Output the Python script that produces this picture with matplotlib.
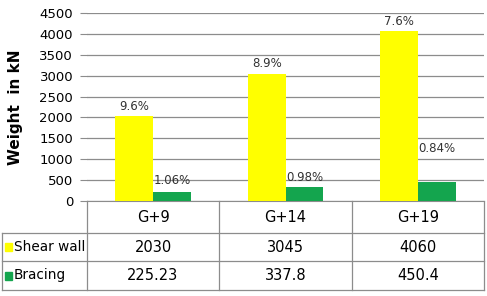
import matplotlib.pyplot as plt
import numpy as np

# data
categories = ['G+9', 'G+14', 'G+19']
series_names = ['Shear wall', 'Bracing']
shear_wall = [2030, 3045, 4060]
bracing = [225.23, 337.8, 450.4]
shear_pct = ['9.6%', '8.9%', '7.6%']
bracing_pct = ['1.06%', '0.98%', '0.84%']
table_text = [['2030', '3045', '4060'], ['225.23', '337.8', '450.4']]

yellow = '#FFFF00'
green = '#14A54E'
grid_col = '#8c8c8c'

W, H = 487, 296
plt.rcParams['font.family'] = 'DejaVu Sans'
fig = plt.figure(figsize=(W / 100, H / 100), dpi=100)

def fx(px):
    return px / W

def fy(py):
    return 1 - py / H

# bar area
x0, x1, ytop, ybot = 87, 484, 13, 201
ax = fig.add_axes([fx(x0), fy(ybot), fx(x1) - fx(x0), fy(ytop) - fy(ybot)])
x = np.arange(len(categories)) + 0.5
bw = 0.285
ax.bar(x - bw / 2, shear_wall, bw, color=yellow, zorder=3)
ax.bar(x + bw / 2, bracing, bw, color=green, zorder=3)
ax.set_xlim(0, 3)
ax.set_ylim(0, 4500)
ax.set_yticks(np.arange(0, 4501, 500))
ax.tick_params(axis='y', labelsize=9.5, length=5, color=grid_col, pad=5)
ax.set_xticks([])
ax.grid(axis='y', color=grid_col, lw=0.9, zorder=0)
for s in ['top', 'right', 'left']:
    ax.spines[s].set_visible(False)
ax.spines['bottom'].set_color(grid_col)
ax.set_ylabel('Weight  in kN', fontsize=11, fontweight='bold', labelpad=12)

# percentage labels
bracing_offset = [120, 60, 640]
for i in range(3):
    ax.text(x[i] - bw / 2, shear_wall[i] + 80, shear_pct[i], ha='center', va='bottom', fontsize=8.5, color='#333333')
    ax.text(x[i] + bw / 2, bracing[i] + bracing_offset[i], bracing_pct[i], ha='center', va='bottom', fontsize=8.5, color='#333333')

# data table below the chart
cols = [87, 219, 352, 484]
rows = [201, 233, 261, 290]
left = 2
lw = 0.9
def hline(y, xa, xb):
    fig.add_artist(plt.Line2D([fx(xa), fx(xb)], [fy(y), fy(y)], color=grid_col, lw=lw))
def vline(xp, ya, yb):
    fig.add_artist(plt.Line2D([fx(xp), fx(xp)], [fy(ya), fy(yb)], color=grid_col, lw=lw))

hline(rows[1], left, cols[-1])
hline(rows[2], left, cols[-1])
hline(rows[3], left, cols[-1])
vline(left, rows[1], rows[3])
for c in cols:
    vline(c, rows[0], rows[3])

for j, cat in enumerate(categories):
    cx = (cols[j] + cols[j + 1]) / 2
    fig.text(fx(cx), fy((rows[0] + rows[1]) / 2), cat, ha='center', va='center', fontsize=10.5)
for r in range(2):
    cy = (rows[r + 1] + rows[r + 2]) / 2
    for j in range(3):
        cx = (cols[j] + cols[j + 1]) / 2
        fig.text(fx(cx), fy(cy), table_text[r][j], ha='center', va='center', fontsize=10.5)
    col = [yellow, green][r]
    fig.add_artist(plt.Rectangle((fx(5), fy(cy + 4)), fx(7), fy(0) - fy(8), color=col, transform=fig.transFigure))
    fig.text(fx(14), fy(cy), series_names[r], ha='left', va='center', fontsize=9.8)

fig.savefig('out.png', dpi=100)
